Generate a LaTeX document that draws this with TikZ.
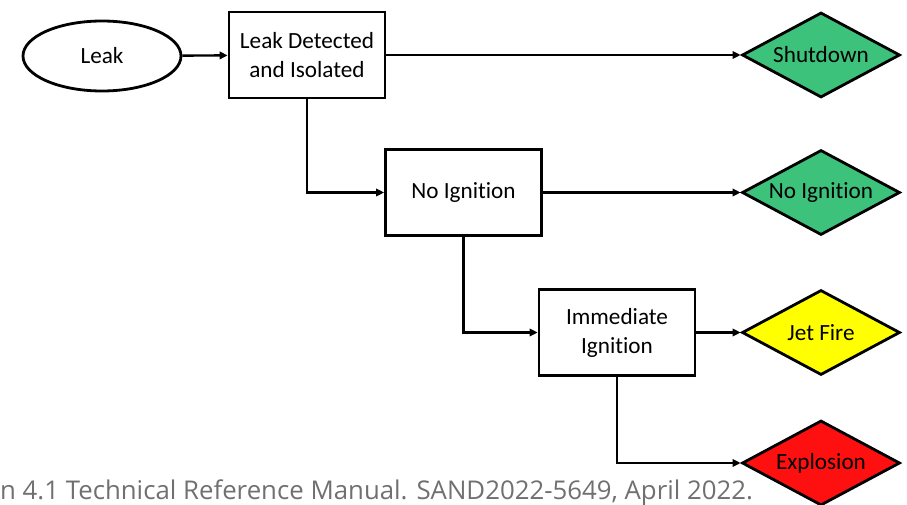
\documentclass[tikz,border=0pt]{standalone}
\usepackage{fontspec}
\setmainfont{Carlito}[Ligatures=NoCommon]
\newfontfamily\captionfont{Open Sans}
\usetikzlibrary{shapes.geometric,arrows.meta}
\definecolor{okgreen}{HTML}{3DC27B}
\definecolor{warnyellow}{HTML}{FFFF00}
\definecolor{dangerred}{HTML}{FF1010}
\definecolor{captiongray}{HTML}{707070}
\tikzset{
  txt/.style={font=\fontsize{23.2}{29}\selectfont},
  evt/.style={txt, draw=black, line width=2.8pt, minimum width=156pt, minimum height=86pt,
    inner sep=2pt, align=center},
  startevt/.style={txt, draw=black, line width=2.8pt, ellipse, minimum width=158pt, minimum height=70pt},
  % end-state diamond of fixed size; its text is set as a centred label
  outcome/.style={draw=black, line width=2.8pt, diamond, minimum width=158pt, minimum height=85pt,
    inner sep=0pt, label={[txt, inner sep=0pt]center:#1}},
  flow/.style={line width=2.4pt, -{Triangle[length=8pt,width=7.5pt]}},
}
\begin{document}
\begin{tikzpicture}[x=1pt,y=-1pt]
  \useasboundingbox (0,0) rectangle (907,505);

  % event tree nodes
  \node[startevt] (leak) at (102,56) {Leak};
  \node[evt] (det) at (307,55) {Leak Detected\\and Isolated};
  \node[evt] (noig) at (463.5,192.5) {No Ignition};
  \node[evt] (imm) at (617,332.5) {Immediate\\Ignition};

  % end states
  \node[outcome=Shutdown, fill=okgreen] (shut) at (821,55) {};
  \node[outcome=No Ignition, fill=okgreen] (noigend) at (821,192.5) {};
  \node[outcome=Jet Fire, fill=warnyellow] (jet) at (821,332.5) {};
  \node[outcome=Explosion, fill=dangerred] (expl) at (821,463) {};

  % branches
  \draw[flow] (leak) -- (det);
  \draw[flow] (det) -- (shut);
  \draw[flow] (det.south) |- (noig.west);
  \draw[flow] (noig) -- (noigend);
  \draw[flow] (noig.south) |- (imm.west);
  \draw[flow] (imm) -- (jet);
  \draw[flow] (imm.south) |- (expl.west);

  % source line
  \node[anchor=base west, inner sep=0pt, text=captiongray,
        font=\captionfont\fontsize{25.8}{30}\selectfont] (src) at (0,499)
        {n 4.1 Technical Reference Manual. SAND2022-5649, April 2022.};
\end{tikzpicture}
\end{document}
